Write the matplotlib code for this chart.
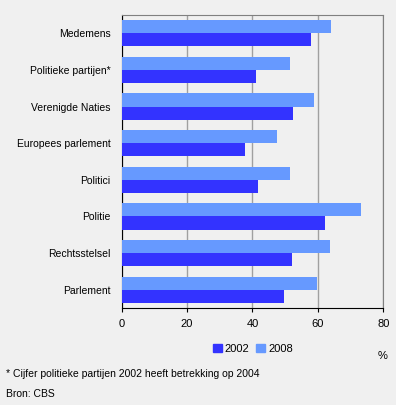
import numpy as np
import matplotlib.pyplot as plt
from matplotlib.patches import Patch

plt.rcParams['font.family'] = ['Liberation Sans', 'DejaVu Sans']
plt.rcParams['font.size'] = 7.5

categories = ['Medemens', 'Politieke partijen*', 'Verenigde Naties', 'Europees parlement',
              'Politici', 'Politie', 'Rechtsstelsel', 'Parlement']
values_2002 = [57.9, 41.1, 52.4, 37.7, 41.7, 62.2, 52.1, 49.6]
values_2008 = [64.0, 51.5, 58.8, 47.5, 51.5, 73.2, 63.7, 59.7]
xticks = [0, 20, 40, 60, 80]

dark = '#3333ff'
light = '#6699ff'
bg = '#f0f0f0'

fig = plt.figure(figsize=(3.96, 4.05), dpi=100, facecolor=bg)
ax = fig.add_axes([0.307, 0.2395, 0.661, 0.7235], facecolor=bg)

y = np.arange(len(categories))
h = 0.36
ax.barh(y - h / 2, values_2008, height=h, color=light, zorder=3)
ax.barh(y + h / 2, values_2002, height=h, color=dark, zorder=3)

ax.set_ylim(len(categories) - 0.5, -0.5)
ax.set_xlim(0, 80)
ax.set_xticks(xticks)
ax.set_yticks(y)
ax.set_yticklabels(categories)
ax.tick_params(axis='y', length=0, pad=8)
ax.tick_params(axis='x', length=3, pad=5, color='black', labelsize=8)
ax.grid(axis='x', color='#a0a0a0', linewidth=1, zorder=0)

for side in ['top', 'right']:
    ax.spines[side].set_color('#808080')
for side in ['left', 'bottom']:
    ax.spines[side].set_color('black')

handles = [Patch(color=dark, label='2002'), Patch(color=light, label='2008')]
fig.legend(handles=handles, loc='center', bbox_to_anchor=(253 / 396, 1 - 349 / 405),
           ncol=2, frameon=False, handlelength=0.8, handleheight=0.8,
           handletextpad=0.3, columnspacing=0.6, fontsize=8)

fig.text(383 / 396, 1 - 356 / 405, '%', ha='center', va='center', fontsize=8)
fig.text(6 / 396, 1 - 374 / 405, '* Cijfer politieke partijen 2002 heeft betrekking op 2004',
         ha='left', va='center', fontsize=7.5)
fig.text(6 / 396, 1 - 394 / 405, 'Bron: CBS', ha='left', va='center', fontsize=7.5)

fig.savefig('out.png', dpi=100, facecolor=bg)
plt.close()
